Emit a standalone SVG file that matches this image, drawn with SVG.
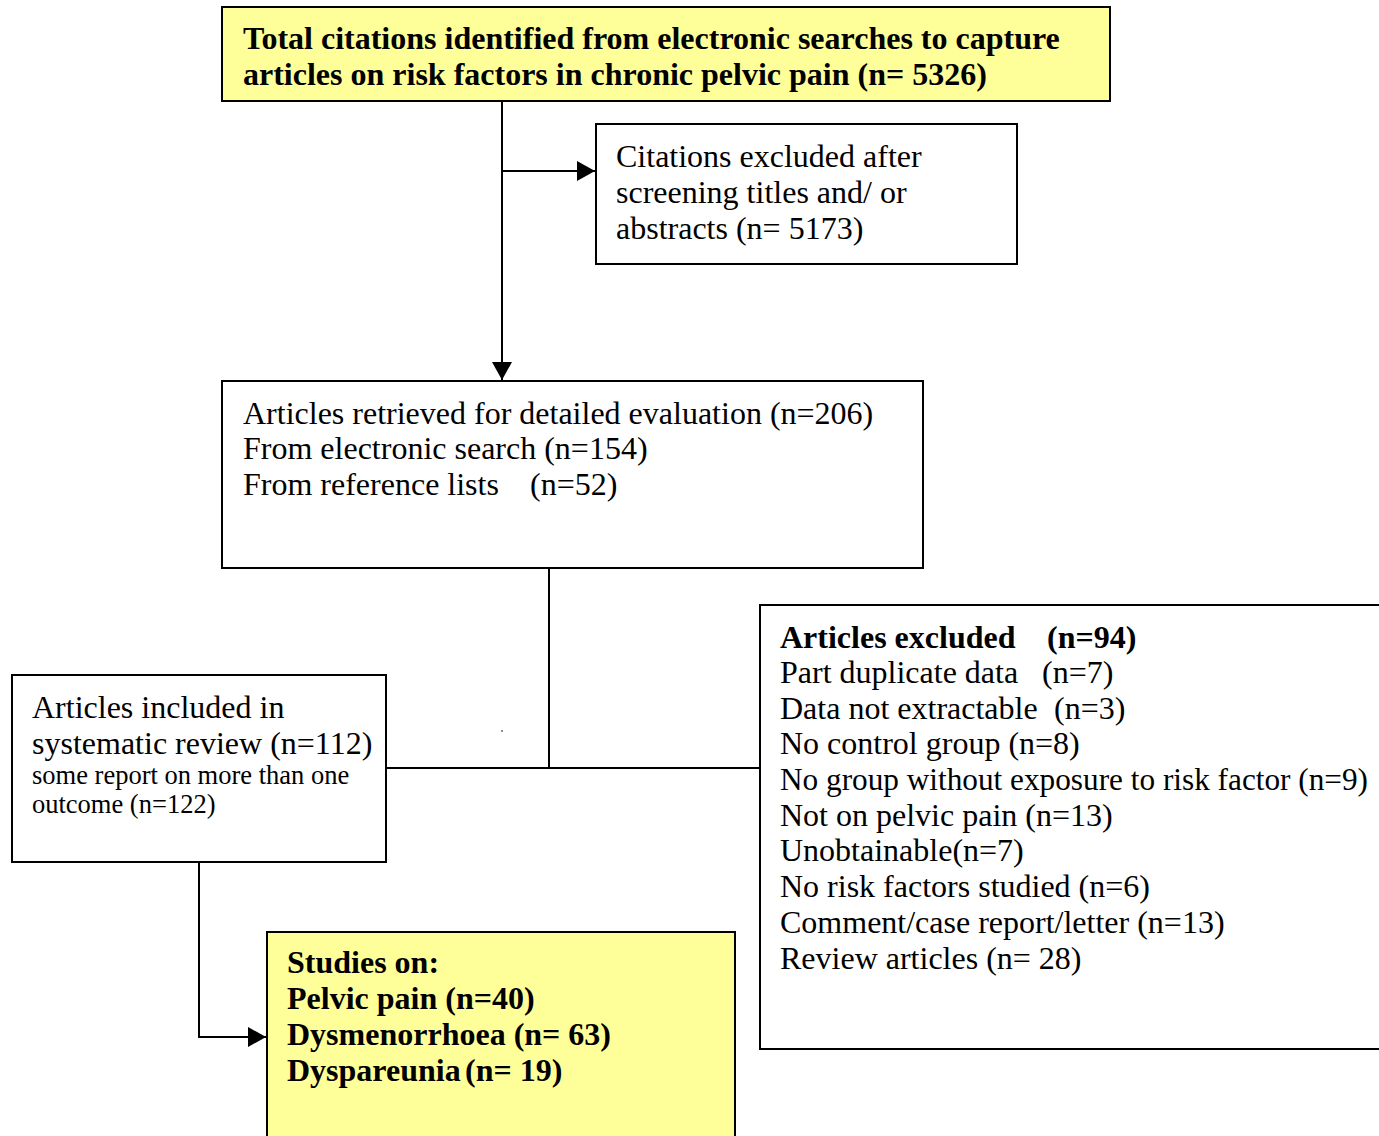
<svg xmlns="http://www.w3.org/2000/svg" width="1379" height="1136" viewBox="0 0 1379 1136">
<style>
.box{fill:#ffffff;stroke:#000;stroke-width:2}
.yel{fill:#ffff99;stroke:#000;stroke-width:2}
.t{font-family:"Liberation Serif","Times New Roman",serif;font-size:32px;fill:#000}
.b{font-weight:bold}
.s{font-size:26.5px}
.ln{fill:none;stroke:#000;stroke-width:2}
</style>
<defs>
<marker id="arr" viewBox="0 0 18 20" refX="18" refY="10" markerWidth="18" markerHeight="20" markerUnits="userSpaceOnUse" orient="auto">
<path d="M0,0 L18,10 L0,20 z" fill="#000"/>
</marker>
</defs>
<rect width="1379" height="1136" fill="#fff"/>
<g id="connectors">
<line class="ln" x1="502" y1="101" x2="502" y2="380" marker-end="url(#arr)"/>
<line class="ln" x1="502" y1="171" x2="595" y2="171" marker-end="url(#arr)"/>
<line class="ln" x1="549" y1="568" x2="549" y2="768"/>
<line class="ln" x1="386" y1="768" x2="760" y2="768"/>
<polyline class="ln" points="199,862 199,1037 266,1037" marker-end="url(#arr)"/>
<circle cx="502" cy="731" r="0.8" fill="#000"/>
</g>
<g id="total">
<rect class="yel" x="222" y="7" width="888" height="94"/>
<text class="t b" x="243" y="49">Total citations identified from electronic searches to capture</text>
<text class="t b" x="243" y="85">articles on risk factors in chronic pelvic pain (n= 5326)</text>
</g>
<g id="excluded-citations">
<rect class="box" x="596" y="124" width="421" height="140"/>
<text class="t" x="616" y="167">Citations excluded after</text>
<text class="t" x="616" y="203">screening titles and/ or</text>
<text class="t" x="616" y="239">abstracts (n= 5173)</text>
</g>
<g id="retrieved">
<rect class="box" x="222" y="381" width="701" height="187"/>
<text class="t" x="243" y="424">Articles retrieved for detailed evaluation (n=206)</text>
<text class="t" x="243" y="459">From electronic search (n=154)</text>
<text class="t" x="243" y="495">From reference lists</text>
<text class="t" x="530" y="495">(n=52)</text>
</g>
<g id="included">
<rect class="box" x="12" y="675" width="374" height="187"/>
<text class="t" x="32" y="718">Articles included in</text>
<text class="t" x="32" y="754">systematic review (n=112)</text>
<text class="t s" x="32" y="784">some report on more than one</text>
<text class="t s" x="32" y="813">outcome (n=122)</text>
</g>
<g id="excluded-articles">
<rect class="box" x="760" y="605" width="660" height="444"/>
<text class="t b" x="780" y="648">Articles excluded</text>
<text class="t b" x="1047" y="648">(n=94)</text>
<text class="t" x="780" y="683">Part duplicate data</text>
<text class="t" x="1042" y="683">(n=7)</text>
<text class="t" x="780" y="719">Data not extractable</text>
<text class="t" x="1054" y="719">(n=3)</text>
<text class="t" x="780" y="754">No control group (n=8)</text>
<text class="t" x="780" y="790" style="font-size:31.2px" textLength="588" lengthAdjust="spacingAndGlyphs">No group without exposure to risk factor (n=9)</text>
<text class="t" x="780" y="826">Not on pelvic pain (n=13)</text>
<text class="t" x="780" y="861">Unobtainable(n=7)</text>
<text class="t" x="780" y="897">No risk factors studied (n=6)</text>
<text class="t" x="780" y="933">Comment/case report/letter (n=13)</text>
<text class="t" x="780" y="969">Review articles (n= 28)</text>
</g>
<g id="studies">
<rect class="yel" x="267" y="932" width="468" height="230"/>
<text class="t b" x="287" y="973">Studies on:</text>
<text class="t b" x="287" y="1009">Pelvic pain (n=40)</text>
<text class="t b" x="287" y="1045">Dysmenorrhoea (n= 63)</text>
<text class="t b" x="287" y="1081">Dyspareunia<tspan x="465">(n= 19)</tspan></text>
</g>
</svg>
